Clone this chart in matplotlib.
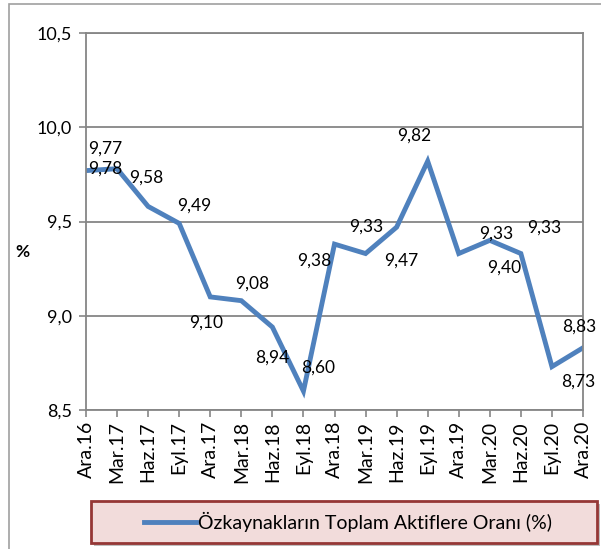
import matplotlib
matplotlib.use("Agg")
import matplotlib.pyplot as plt
from matplotlib.patches import Rectangle

plt.rcParams['font.family'] = ['Lato', 'DejaVu Sans']

donemler = ["Ara.16", "Mar.17", "Haz.17", "Eyl.17", "Ara.17", "Mar.18", "Haz.18",
            "Eyl.18", "Ara.18", "Mar.19", "Haz.19", "Eyl.19", "Ara.19", "Mar.20",
            "Haz.20", "Eyl.20", "Ara.20"]
oran = [9.77, 9.78, 9.58, 9.49, 9.10, 9.08, 8.94, 8.60, 9.38, 9.33, 9.47, 9.82,
        9.33, 9.40, 9.33, 8.73, 8.83]
y_ticks = [8.5, 9.0, 9.5, 10.0, 10.5]

# etiketlerin noktaya göre kaydırılması (piksel)
etiket_kayma = [(19, 22), (-12, 0), (-2, 29), (15, 18), (-4, -26), (11, 17),
                (0, -31), (15, 24), (-20, -17), (1, 27), (5, -33), (-14, 26),
                (37, 20), (14, -27), (23, 26), (26, -15), (-4, 21)]

mavi = "#4F81BD"
gri = "#868686"

fig = plt.figure(figsize=(6.01, 5.49), dpi=100)
ax = fig.add_axes([86/601, 1 - 410/549, 497/601, 377/549])

# dış çerçeve
fig.patches.append(Rectangle((9/601, -0.1), 1.2, 1 - 4/549 + 0.1, transform=fig.transFigure,
                             fill=False, edgecolor="#A0A0A0", linewidth=1.2))

x = list(range(len(donemler)))
ax.plot(x, oran, color=mavi, linewidth=3.5, solid_joinstyle="miter",
        label="Özkaynakların Toplam Aktiflere Oranı (%)")

for xi, v, (dx, dy) in zip(x, oran, etiket_kayma):
    ax.annotate(f"{v:.2f}".replace(".", ","), (xi, v), xytext=(dx, dy),
                textcoords="offset pixels", ha="center", va="center", fontsize=12.5)

ax.set_xlim(0, len(donemler) - 1)
ax.set_ylim(8.5, 10.5)
ax.set_yticks(y_ticks)
ax.set_yticklabels([f"{t:.1f}".replace(".", ",") for t in y_ticks], fontsize=13)
ax.set_xticks(x)
ax.set_xticklabels(donemler, rotation=90, fontsize=14)
ax.tick_params(axis="both", direction="out", length=5, width=1.2, color=gri)
ax.tick_params(axis="y", pad=5)
ax.tick_params(axis="x", pad=3)
ax.grid(axis="y", color=gri, linewidth=1.3)
ax.set_axisbelow(True)
for s in ax.spines.values():
    s.set_color(gri)
    s.set_linewidth(1.3)

fig.text(22/601, 1 - 252/549, "%", fontsize=12.5, fontweight="bold", ha="center", va="center")

# lejant kutusu
kx, ky, kw, kh = 91/601, 1 - 543/549, 506/601, 42/549
fig.patches.append(Rectangle((kx + 3/601, ky - 3/549), kw, kh, transform=fig.transFigure,
                             facecolor="#BFBFBF", edgecolor="none", zorder=1))
fig.patches.append(Rectangle((kx, ky), kw, kh, transform=fig.transFigure,
                             facecolor="#F2DCDB", edgecolor="#953735", linewidth=2, zorder=2))
fig.legend(loc="center", bbox_to_anchor=(kx + kw/2 + 4/601, ky + kh/2), frameon=False,
           fontsize=14, handlelength=2.7, handletextpad=0.1)

fig.savefig("out.png", dpi=100)
